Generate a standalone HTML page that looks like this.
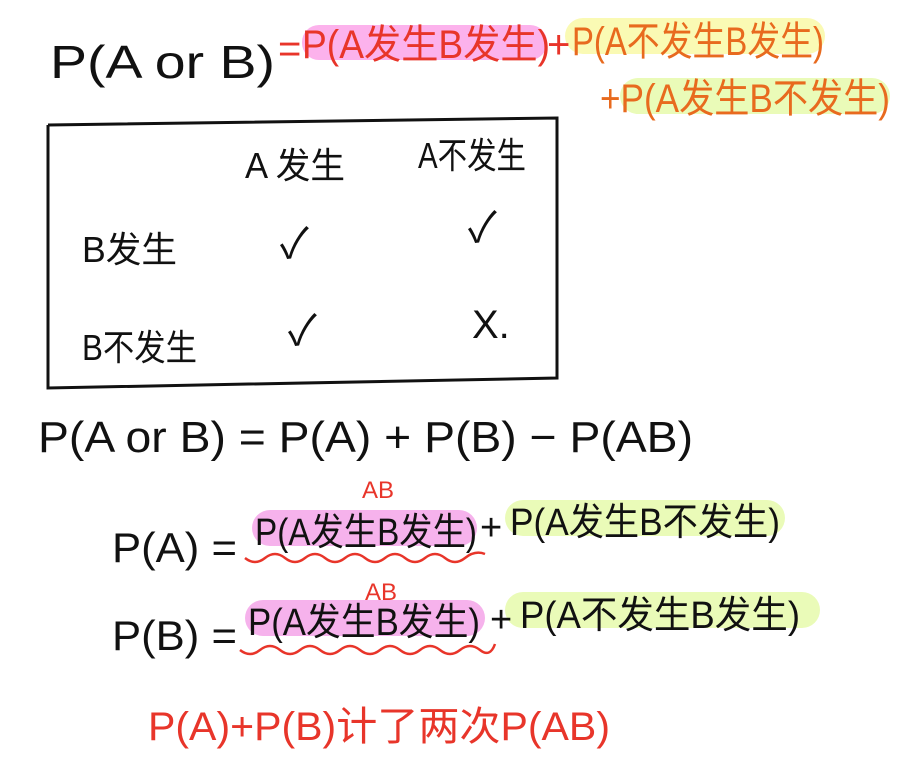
<!DOCTYPE html>
<html><head><meta charset="utf-8"><style>
html,body{margin:0;padding:0;background:#fff;}
svg{display:block}
text{font-family:"Liberation Sans","Noto Sans CJK SC",sans-serif;}
</style></head><body>
<svg width="905" height="772" viewBox="0 0 905 772" xmlns="http://www.w3.org/2000/svg">
<!-- highlights -->
<rect x="302" y="25" width="245" height="35" rx="17" fill="#fcb2ec"/>
<rect x="565" y="18" width="260" height="36" rx="18" fill="#fafab4"/>
<rect x="620" y="78" width="270" height="36" rx="18" fill="#eafbb8"/>
<rect x="252" y="510" width="225" height="36" rx="18" fill="#f6b2ec"/>
<rect x="505" y="500" width="280" height="36" rx="18" fill="#eafbb8"/>
<rect x="245" y="600" width="240" height="36" rx="18" fill="#f6b2ec"/>
<rect x="505" y="592" width="315" height="36" rx="18" fill="#eafbb8"/>

<!-- line 1 -->
<text x="50" y="78" font-size="46" textLength="225" lengthAdjust="spacingAndGlyphs" fill="#111">P(A or B)</text>
<text x="278" y="62" font-size="40" fill="#e8352a">=</text>
<text x="302" y="58" font-size="40" textLength="248" lengthAdjust="spacingAndGlyphs" fill="#e8352a">P(A发生B发生)</text>
<text x="547" y="58" font-size="40" fill="#e8352a">+</text>
<text x="572" y="55" font-size="40" textLength="252" lengthAdjust="spacingAndGlyphs" fill="#e86a1e">P(A不发生B发生)</text>
<text x="600" y="112" font-size="40" textLength="290" lengthAdjust="spacingAndGlyphs" fill="#e86a1e">+P(A发生B不发生)</text>

<!-- box -->
<polyline points="48,125 557,118 557,378 48,388 48,125" fill="none" stroke="#111" stroke-width="3"/>
<text x="245" y="178" font-size="36" textLength="100" lengthAdjust="spacingAndGlyphs" fill="#111">A 发生</text>
<text x="418" y="168" font-size="36" textLength="108" lengthAdjust="spacingAndGlyphs" fill="#111">A不发生</text>
<text x="82" y="262" font-size="36" textLength="95" lengthAdjust="spacingAndGlyphs" fill="#111">B发生</text>
<text x="82" y="360" font-size="36" textLength="115" lengthAdjust="spacingAndGlyphs" fill="#111">B不发生</text>
<text x="280" y="258" font-size="42" fill="#111">✓</text>
<text x="468" y="242" font-size="42" fill="#111">✓</text>
<text x="288" y="345" font-size="42" fill="#111">✓</text>
<text x="472" y="338" font-size="40" fill="#111">X.</text>

<!-- line formula -->
<text x="38" y="452" font-size="44" textLength="655" lengthAdjust="spacingAndGlyphs" fill="#111">P(A or B) = P(A) + P(B) − P(AB)</text>

<!-- P(A) -->
<text x="362" y="498" font-size="24" fill="#e8352a">AB</text>
<text x="112" y="562" font-size="42" textLength="125" lengthAdjust="spacingAndGlyphs" fill="#111">P(A) =</text>
<text x="255" y="545" font-size="38" textLength="222" lengthAdjust="spacingAndGlyphs" fill="#111">P(A发生B发生)</text>
<text x="480" y="540" font-size="38" fill="#111">+</text>
<text x="510" y="535" font-size="38" textLength="270" lengthAdjust="spacingAndGlyphs" fill="#111">P(A发生B不发生)</text>
<path d="M245,558 q10,8 20,0 t20,0 t20,0 t20,0 t20,0 t20,0 t20,0 t20,0 t20,0 t20,0 t20,0 t20,-4" fill="none" stroke="#e8352a" stroke-width="2.5"/>

<!-- P(B) -->
<text x="365" y="600" font-size="24" fill="#e8352a">AB</text>
<text x="112" y="650" font-size="42" textLength="125" lengthAdjust="spacingAndGlyphs" fill="#111">P(B) =</text>
<text x="248" y="635" font-size="38" textLength="232" lengthAdjust="spacingAndGlyphs" fill="#111">P(A发生B发生)</text>
<text x="490" y="632" font-size="38" fill="#111">+</text>
<text x="520" y="628" font-size="38" textLength="280" lengthAdjust="spacingAndGlyphs" fill="#111">P(A不发生B发生)</text>
<path d="M240,650 q10,8 20,0 t20,0 t20,0 t20,0 t20,0 t20,0 t20,0 t20,0 t20,0 t20,0 t20,0 t20,0 t15,-6" fill="none" stroke="#e8352a" stroke-width="2.5"/>

<!-- conclusion -->
<text x="148" y="740" font-size="40" textLength="462" lengthAdjust="spacingAndGlyphs" fill="#e8352a">P(A)+P(B)计了两次P(AB)</text>
</svg>
</body></html>
